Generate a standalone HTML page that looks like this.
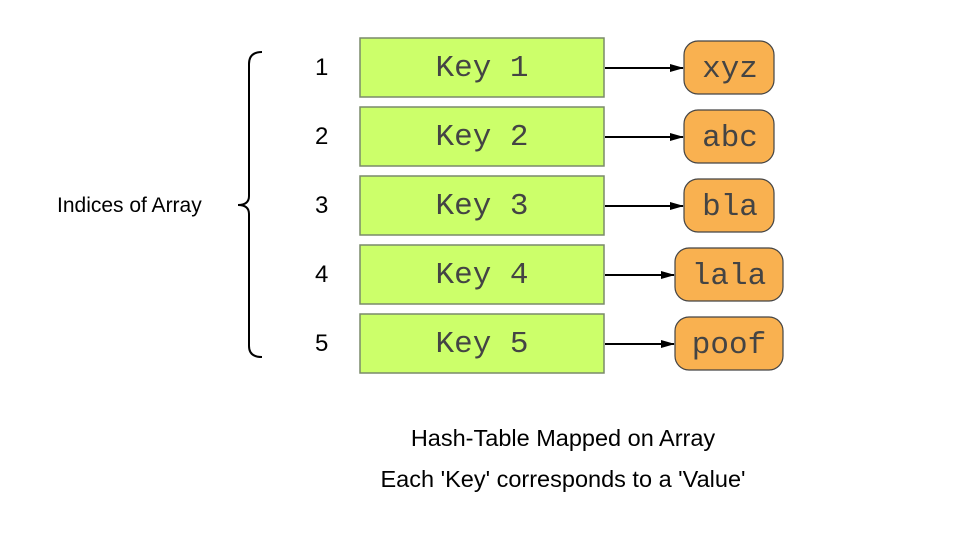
<!DOCTYPE html>
<html><head><style>
body{margin:0;background:#fff;width:963px;height:534px;overflow:hidden}
</style></head><body>
<svg width="963" height="534" xmlns="http://www.w3.org/2000/svg">
<defs><marker id="a" markerWidth="14" markerHeight="8" refX="13" refY="4" orient="auto" markerUnits="userSpaceOnUse"><path d="M0,0 L14,4 L0,8 z" fill="#000"/></marker></defs>
<g font-family="Liberation Mono, monospace" font-size="31" fill="#444">
<g stroke="#7a8a6a" stroke-width="1.5" fill="#ccff6a">
<rect x="360" y="38" width="244" height="59"/>
<rect x="360" y="107" width="244" height="59"/>
<rect x="360" y="176" width="244" height="59"/>
<rect x="360" y="245" width="244" height="59"/>
<rect x="360" y="314" width="244" height="59"/>
</g>
<g stroke="#444" stroke-width="1.2" fill="#f9b150">
<rect x="684" y="41" width="90" height="53" rx="14"/>
<rect x="684" y="110" width="90" height="53" rx="14"/>
<rect x="684" y="179" width="90" height="53" rx="14"/>
<rect x="675" y="248" width="108" height="53" rx="14"/>
<rect x="675" y="317" width="108" height="53" rx="14"/>
</g>
<g text-anchor="middle">
<text x="482" y="76">Key 1</text><text x="482" y="145">Key 2</text><text x="482" y="214">Key 3</text><text x="482" y="283">Key 4</text><text x="482" y="352">Key 5</text>
<text x="730" y="77">xyz</text><text x="730" y="146">abc</text><text x="730" y="215">bla</text><text x="729" y="284">lala</text><text x="729" y="353">poof</text>
</g>
</g>
<g stroke="#000" stroke-width="2" marker-end="url(#a)">
<line x1="605" y1="68" x2="683" y2="68"/>
<line x1="605" y1="137" x2="683" y2="137"/>
<line x1="605" y1="206" x2="683" y2="206"/>
<line x1="605" y1="275" x2="674" y2="275"/>
<line x1="605" y1="344" x2="674" y2="344"/>
</g>
<path d="M262,52 Q249,52 249,64 L249,196 Q249,205 238,205 Q249,205 249,214 L249,346 Q249,357 262,357" fill="none" stroke="#000" stroke-width="2"/>
<g font-family="Liberation Sans, sans-serif" font-size="24" fill="#000">
<text x="315" y="75">1</text><text x="315" y="144">2</text><text x="315" y="213">3</text><text x="315" y="282">4</text><text x="315" y="351">5</text>
<text x="57" y="212" font-size="21">Indices of Array</text>
<text x="563" y="446" text-anchor="middle" font-size="23.5">Hash-Table Mapped on Array</text>
<text x="563" y="487" text-anchor="middle" font-size="23.5">Each 'Key' corresponds to a 'Value'</text>
</g>
</svg>
</body></html>
